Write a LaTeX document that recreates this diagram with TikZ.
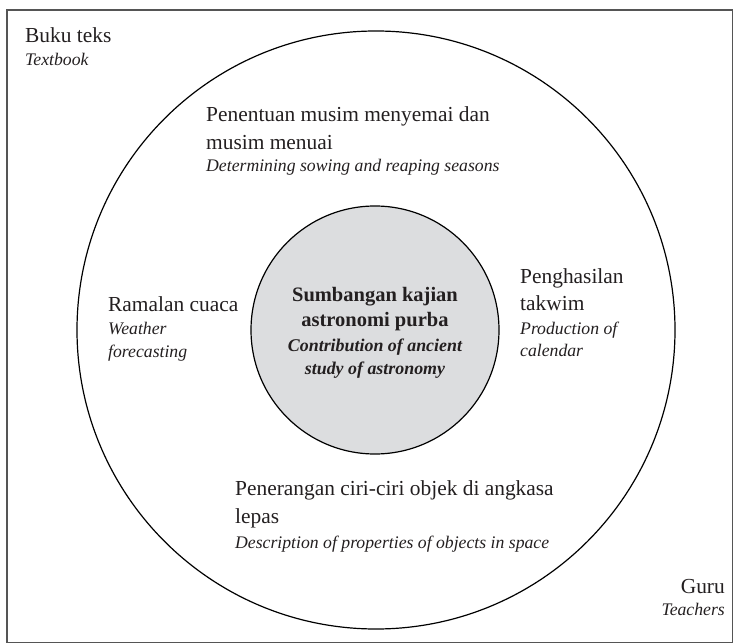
\documentclass[tikz,border=0pt]{standalone}
\usepackage{fontspec}
\setmainfont{Liberation Serif}
\definecolor{txt}{HTML}{231F20}
\definecolor{fillg}{HTML}{DCDDDF}
\definecolor{framec}{HTML}{555555}
\begin{document}
\begin{tikzpicture}[x=1pt,y=-1pt,
  rm/.style={font=\fontsize{21.4}{26}\selectfont, text=txt, inner sep=0pt},
  itl/.style={font=\fontsize{17.7}{22}\selectfont\itshape, text=txt, inner sep=0pt},
  bf/.style={font=\fontsize{20.5}{25}\selectfont\bfseries, text=txt, inner sep=0pt},
  bfit/.style={font=\fontsize{17.9}{22}\selectfont\bfseries\itshape, text=txt, inner sep=0pt},
  ring/.style={circle, draw=black, line width=1.2pt, inner sep=0pt},
  framebox/.style={draw=framec, line width=1.4pt}]
\useasboundingbox (0,0) rectangle (734,644);
\draw[framebox] (7,10) rectangle (732.6,642.6);
\node[ring, minimum size=598pt] (outer) at (376,330) {};
\node[ring, fill=fillg, minimum size=248pt] (inner) at (375,330) {};
% corner labels
\node[rm, anchor=base west] (buku) at (25,43) {Buku teks};
\node[itl, anchor=base west] (textbook) at (25,66) {Textbook};
\node[rm, anchor=base east] (guru) at (725,593) {Guru};
\node[itl, anchor=base east] (teachers) at (725,615) {Teachers};
% top block
\node[rm, anchor=base west] (top1) at (206,122) {Penentuan musim menyemai dan};
\node[rm, anchor=base west] (top2) at (206,150) {musim menuai};
\node[itl, anchor=base west] (top3) at (206,172) {Determining sowing and reaping seasons};
% left block
\node[rm, anchor=base west] (left1) at (108,312) {Ramalan cuaca};
\node[itl, anchor=base west] (left2) at (108,335) {Weather};
\node[itl, anchor=base west] (left3) at (108,358) {forecasting};
% right block
\node[rm, anchor=base west] (right1) at (520,284) {Penghasilan};
\node[rm, anchor=base west] (right2) at (520,311) {takwim};
\node[itl, anchor=base west] (right3) at (520,335) {Production of};
\node[itl, anchor=base west] (right4) at (520,357) {calendar};
% bottom block
\node[rm, anchor=base west] (bot1) at (235,495) {Penerangan ciri-ciri objek di angkasa};
\node[rm, anchor=base west] (bot2) at (235,523) {lepas};
\node[itl, anchor=base west] (bot3) at (235,548) {Description of properties of objects in space};
% centre
\node[bf, anchor=base] (c1) at (375,302) {Sumbangan kajian};
\node[bf, anchor=base] (c2) at (375,327) {astronomi purba};
\node[bfit, anchor=base] (c3) at (375,352) {Contribution of ancient};
\node[bfit, anchor=base] (c4) at (375,374) {study of astronomy};
\end{tikzpicture}
\end{document}
